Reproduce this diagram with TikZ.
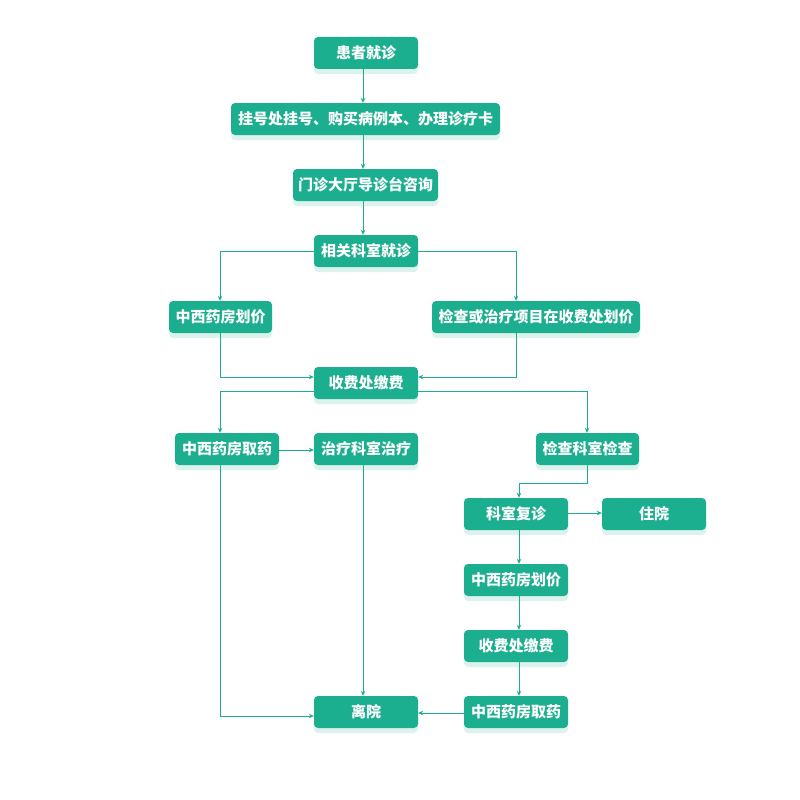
\documentclass[tikz,border=0pt]{standalone}
\usepackage{fontspec}
\newfontfamily\cjk{Noto Sans CJK SC}
\usetikzlibrary{arrows.meta,shadows,calc}
\definecolor{boxgreen}{HTML}{1BAF8F}
\definecolor{shadowmint}{HTML}{DCF3ED}
\begin{document}
\begin{tikzpicture}[x=1pt,y=-1pt,
  box/.style={fill=boxgreen, rounded corners=4pt, minimum height=32pt, inner sep=0pt,
    text=white, font=\cjk\bfseries\fontsize{15}{18}\selectfont,
    drop shadow={shadow xshift=0pt,shadow yshift=-5pt,fill=shadowmint,opacity=1}},
  conn/.style={draw=boxgreen, line width=0.8pt, -{Stealth[length=5pt,width=4.5pt]}}]
\useasboundingbox[fill=white] (0,0) rectangle (800,800);
\coordinate (trunk) at (363,0);
\coordinate (colL) at (220,0);
\coordinate (colR) at (516,0);
\coordinate (colC) at (519,0);
\coordinate (colK) at (587,0);

\node[box, minimum width=104pt] (n1) at (366,53) {患者就诊};
\node[box, minimum width=269pt] (n2) at (365.5,119) {挂号处挂号、购买病例本、办理诊疗卡};
\node[box, minimum width=145pt] (n3) at (365.5,185) {门诊大厅导诊台咨询};
\node[box, minimum width=104pt] (n4) at (366,251) {相关科室就诊};
\node[box, minimum width=103pt] (n5) at (220.5,317) {中西药房划价};
\node[box, minimum width=208pt] (n6) at (536,317) {检查或治疗项目在收费处划价};
\node[box, minimum width=104pt] (n7) at (366,383) {收费处缴费};
\node[box, minimum width=104pt] (n8) at (227,449) {中西药房取药};
\node[box, minimum width=104pt] (n9) at (366,449) {治疗科室治疗};
\node[box, minimum width=103pt] (n10) at (587.5,449) {检查科室检查};
\node[box, minimum width=104pt] (n11) at (516,514) {科室复诊};
\node[box, minimum width=104pt] (n12) at (654,514) {住院};
\node[box, minimum width=104pt] (n13) at (516,580) {中西药房划价};
\node[box, minimum width=104pt] (n14) at (516,646) {收费处缴费};
\node[box, minimum width=104pt] (n15) at (366,712) {离院};
\node[box, minimum width=104pt] (n16) at (516,712) {中西药房取药};

\draw[conn] (n1.south -| trunk) -- (n2.north -| trunk);
\draw[conn] (n2.south -| trunk) -- (n3.north -| trunk);
\draw[conn] (n3.south -| trunk) -- (n4.north -| trunk);
\draw[conn] (n4.west) -| (n5.north -| colL);
\draw[conn] (n4.east) -| (n6.north -| colR);
\draw[conn] (n5.south -| colL) |- ([yshift=6pt]n7.west);
\draw[conn] (n6.south -| colR) |- ([yshift=6pt]n7.east);
\draw[conn] ([yshift=-8pt]n7.west) -| (n8.north -| colL);
\draw[conn] ([yshift=-8pt]n7.east) -| (n10.north -| colK);
\draw[conn] ([yshift=-1pt]n8.east) -- ([yshift=-1pt]n9.west);
\draw[conn] (n9.south -| trunk) -- (n15.north -| trunk);
\draw[conn] (n8.south -| colL) |- ([yshift=-4pt]n15.west);
\draw[conn] (n10.south -| colK) -- ++(0,18) -| (n11.north -| colC);
\draw[conn] ([yshift=1pt]n11.east) -- ([yshift=1pt]n12.west);
\draw[conn] (n11.south -| colC) -- (n13.north -| colC);
\draw[conn] (n13.south -| colC) -- (n14.north -| colC);
\draw[conn] (n14.south -| colC) -- (n16.north -| colC);
\draw[conn] ([yshift=-1pt]n16.west) -- ([yshift=-1pt]n15.east);
\end{tikzpicture}
\end{document}
